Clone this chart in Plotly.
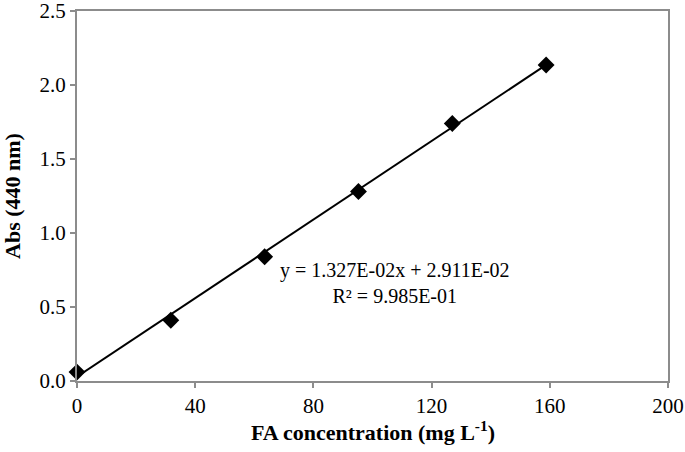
import numpy as np
import plotly.graph_objects as go

# calibration data
conc = [0, 31.75, 63.5, 95.25, 127, 158.75]
absorb = [0.06, 0.41, 0.84, 1.28, 1.74, 2.135]

# reported linear fit
slope = 1.327e-02
intercept = 2.911e-02
r2 = 9.985e-01

x_ticks = [0, 40, 80, 120, 160, 200]
y_ticks = [0.0, 0.5, 1.0, 1.5, 2.0, 2.5]

font_fam = "Liberation Serif"
axis_col = "#8c8c8c"

fit_x = np.array([min(conc), max(conc)])
fit_y = slope * fit_x + intercept

fig = go.Figure()
fig.add_trace(go.Scatter(x=fit_x, y=fit_y, mode="lines",
                         line=dict(color="black", width=2), hoverinfo="skip"))
fig.add_trace(go.Scatter(x=conc, y=absorb, mode="markers", cliponaxis=False,
                         marker=dict(symbol="diamond", size=13, color="black")))

# equation of the trendline
fig.add_annotation(
    x=107.6, y=0.66, xref="x", yref="y",
    text=f"y = {slope:.3E}x + {intercept:.3E}<br>R² = {r2:.3E}",
    showarrow=False, align="center",
    font=dict(family=font_fam, size=20, color="black"),
)

# axis titles as annotations for exact placement
fig.add_annotation(
    x=0.5, y=-0.135, xref="paper", yref="paper", xanchor="center", yanchor="middle",
    text="<b>FA concentration (mg L<sup>-1</sup>)</b>", showarrow=False,
    font=dict(family=font_fam, size=22, color="black"),
)
fig.add_annotation(
    x=-0.11, y=0.5, xref="paper", yref="paper", xanchor="center", yanchor="middle",
    text="<b>Abs (440 nm)</b>", textangle=-90, showarrow=False,
    font=dict(family=font_fam, size=22, color="black"),
)

axis_common = dict(
    showgrid=False, zeroline=False, showline=True, linecolor=axis_col, linewidth=2,
    mirror=True, ticks="outside", tickcolor=axis_col, ticklen=5, tickwidth=1.5,
    tickfont=dict(family=font_fam, size=21, color="black"), automargin=False,
    ticklabeloverflow="allow",
)

fig.update_xaxes(range=[0, 200], tickvals=x_ticks, **axis_common)
fig.update_yaxes(range=[0, 2.5], tickvals=y_ticks, tickformat=".1f", **axis_common)

fig.update_layout(
    width=685, height=452,
    margin=dict(l=77, r=17, t=11, b=71, autoexpand=False),
    plot_bgcolor="white", paper_bgcolor="white",
    showlegend=False,
)

fig.write_html("out.html", config={"displayModeBar": False},
               post_script="document.body.style.margin='0';")
